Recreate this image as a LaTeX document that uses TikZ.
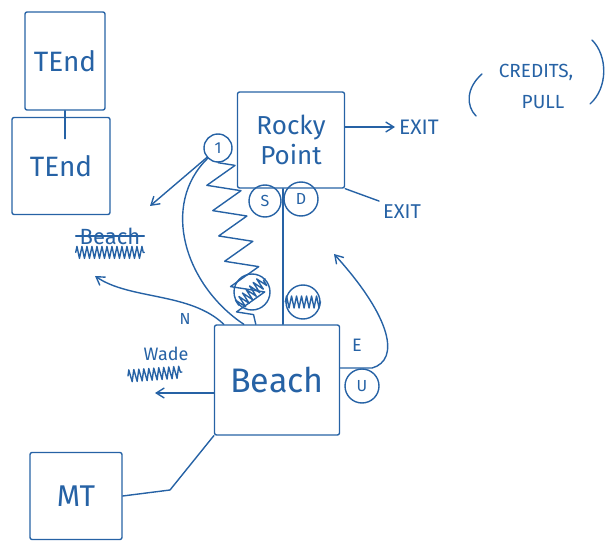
\documentclass[tikz,border=0pt]{standalone}
\usepackage{fontspec}
\setmainfont{Fira Sans}
\usetikzlibrary{decorations.pathmorphing,arrows.meta}
\definecolor{pen}{RGB}{38,98,165}

\begin{document}
\begin{tikzpicture}[x=1pt,y=-1pt,line width=1.4pt,color=pen,line cap=round,line join=round,
    >={Straight Barb[length=8pt,width=10pt]},
    box/.style={draw,rounded corners=2pt,inner sep=0pt},
    ring/.style={circle,draw,inner sep=0pt,font=\fontsize{16}{16}\selectfont},
    scribble/.style={decorate,decoration={zigzag,segment length=5pt,amplitude=6pt}}]

    \useasboundingbox (0,0) rectangle (616,556);

    \node[box,minimum width=80,minimum height=98,font=\fontsize{28}{30}\selectfont] (tend1) at (65,61) {TEnd};
    \node[box,minimum width=98,minimum height=97,font=\fontsize{28}{30}\selectfont] (tend2) at (61,166) {TEnd};
    \node[box,minimum width=107,minimum height=96,align=center,font=\fontsize{26}{30}\selectfont] (rocky) at (291,140) {Rocky\\Point};
    \node[box,minimum width=125,minimum height=110,font=\fontsize{34}{36}\selectfont] (beach) at (277,380) {Beach};
    \node[box,minimum width=92,minimum height=87,font=\fontsize{30}{32}\selectfont] (mt) at (76,496) {MT};

    \node[ring,minimum size=28] (one) at (218,148) {1};
    \node[ring,minimum size=32] (s) at (265,201) {S};
    \node[ring,minimum size=34] (d) at (301,199) {D};
    \node[ring,minimum size=34] (u) at (362,386) {U};
    \node[ring,minimum size=36] (x1) at (252,292) {};
    \node[ring,minimum size=34] (x2) at (303,302) {};

    \node[anchor=west,font=\fontsize{21}{23}\selectfont] (exit1) at (395,127) {EXIT};
    \node[font=\fontsize{19}{21}\selectfont] (credits) at (536,72) {CREDITS,};
    \node[font=\fontsize{19}{21}\selectfont] (pull) at (543,102) {PULL};
    \node[font=\fontsize{20}{22}\selectfont] (exit2) at (402,212) {EXIT};
    \node[font=\fontsize{22}{24}\selectfont] (beachold) at (110,236) {Beach};
    \node[font=\fontsize{16}{16}\selectfont] (n) at (185,319) {N};
    \node[font=\fontsize{18}{20}\selectfont] (wade) at (166,354) {Wade};
    \node[font=\fontsize{18}{20}\selectfont] (e) at (357,345) {E};

    \coordinate (tip1) at (150,206);
    \coordinate (tip2) at (95,276);
    \coordinate (wadetip) at (155,393);
    \coordinate (etip) at (334,254);
    \coordinate (mtbend) at (170,490);

    \draw (482,74) .. controls (466,88) and (466,106) .. (476,116);
    \draw (592,40) .. controls (608,56) and (608,88) .. (590,104);

    \draw[->] (rocky.east |- exit1.west) -- (exit1.west);
    \draw (rocky.south east) -- (exit2.north west);
    \draw ([xshift=-8]rocky.south) -- ([xshift=-8]rocky.south |- beach.north);
    \draw (tend1.south) -- ++(0,28);
    \draw[->] (one) -- (tip1);
    \draw (one.south west) .. controls (160,205) and (185,285) .. ([xshift=30]beach.north west);
    \draw[decorate,decoration={zigzag,segment length=26pt,amplitude=16pt}] (one.south) -- ([xshift=42]beach.north west);
    \draw[->] ([xshift=10]beach.north west) .. controls (190,292) and (130,300) .. (tip2);
    \draw[->] (beach.west |- wadetip) -- (wadetip);
    \draw[->] ([yshift=12]beach.east) -- ++(32,0) .. controls (400,360) and (392,318) .. (etip);
    \draw (mt.east) -- (mtbend) -- (beach.south west);

    \draw[scribble] (x1.south west) -- (x1.north east);
    \draw[scribble] (x2.west) -- (x2.east);
    \draw (beachold.west) -- (beachold.east);
    \draw[scribble] ([yshift=-4]beachold.south west) -- ([yshift=-4]beachold.south east);
    \draw[scribble] (128,376) -- (182,372);

\end{tikzpicture}
\end{document}
